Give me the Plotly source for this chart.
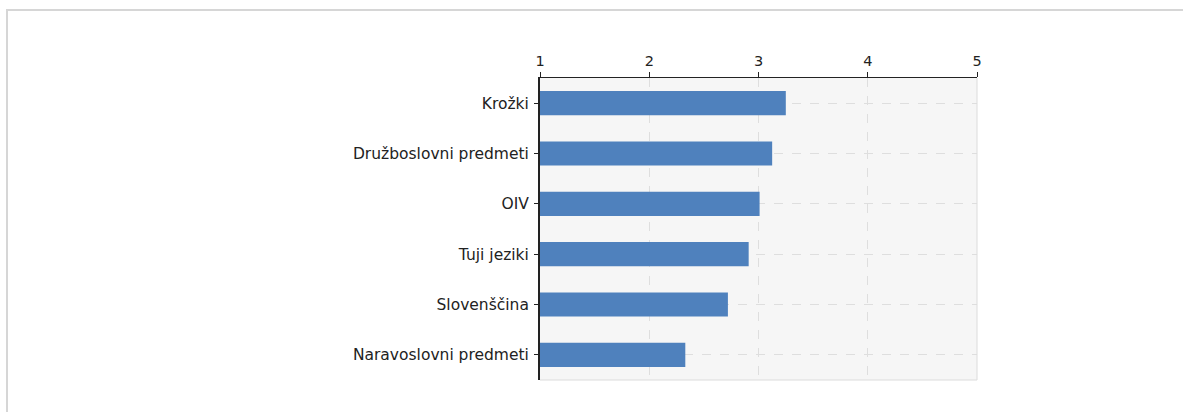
import plotly.graph_objects as go

categories = ["Krožki", "Družboslovni predmeti", "OIV", "Tuji jeziki", "Slovenščina", "Naravoslovni predmeti"]
values = [3.25, 3.125, 3.01, 2.91, 2.72, 2.33]
x_ticks = [1, 2, 3, 4, 5]

fig = go.Figure()
fig.add_trace(go.Bar(
    y=categories, x=[v - 1 for v in values], base=1, orientation="h",
    marker=dict(color="#4f81bd", line=dict(width=0)),
    width=0.48, hoverinfo="skip",
))

L, R, T, B = 540, 977, 78, 380
W, H = 1183, 412
pw, ph = R - L, B - T

fig.update_layout(
    width=W, height=H,
    margin=dict(l=L, r=W - R, t=T, b=H - B),
    paper_bgcolor="white", plot_bgcolor="#f6f6f6",
    font=dict(family="DejaVu Sans", size=15.5, color="#222"),
    showlegend=False,
    xaxis=dict(
        side="top", range=[1, 5], tickvals=x_ticks, ticktext=[str(t) for t in x_ticks],
        tickfont=dict(size=14.5),
        showgrid=True, gridcolor="#dedede", griddash="dash", gridwidth=1,
        showline=True, linecolor="#222", linewidth=1.5,
        ticks="outside", ticklen=5, tickcolor="#222",
        zeroline=False, fixedrange=True,
    ),
    yaxis=dict(
        categoryorder="array", categoryarray=categories[::-1],
        showgrid=True, gridcolor="#dedede", griddash="dash", gridwidth=1,
        showline=True, linecolor="#222", linewidth=2,
        ticks="outside", ticklen=4, tickcolor="#222",
        zeroline=False, fixedrange=True, ticklabelstandoff=2,
    ),
    shapes=[
        dict(type="rect", xref="paper", yref="paper",
             x0=(7 - L) / pw, x1=(1200 - L) / pw,
             y0=(B - 10) / ph, y1=(B - 430) / ph,
             line=dict(color="#d6d6d6", width=2), fillcolor="rgba(0,0,0,0)", layer="below"),
        dict(type="line", xref="paper", yref="paper", x0=1, x1=1, y0=0, y1=1,
             line=dict(color="#dcdcdc", width=1)),
        dict(type="line", xref="paper", yref="paper", x0=0, x1=1, y0=0, y1=0,
             line=dict(color="#dcdcdc", width=1)),
    ],
)

fig.write_html("out.html", config={"displayModeBar": False, "staticPlot": True},
               post_script="document.body.style.margin='0';document.body.style.overflow='hidden';")
